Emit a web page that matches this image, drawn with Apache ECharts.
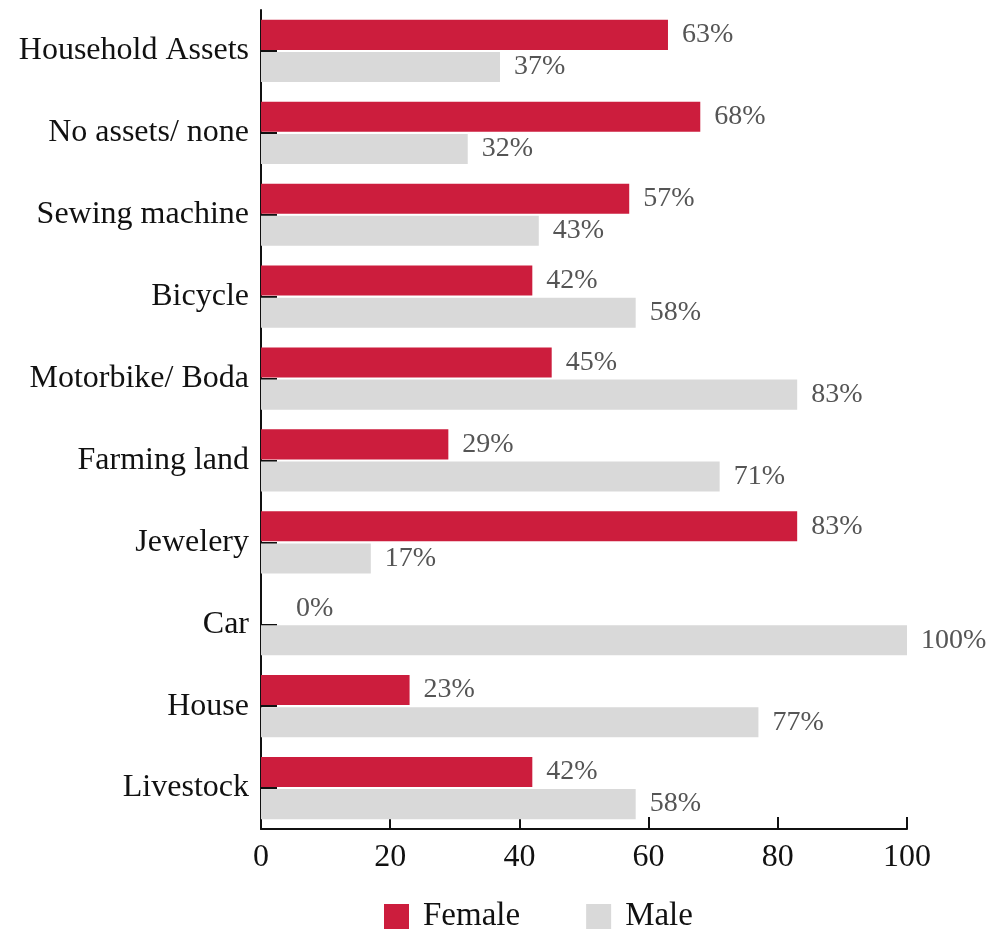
<!DOCTYPE html>
<html>
<head>
<meta charset="utf-8">
<style>
  html, body { margin: 0; padding: 0; background: #ffffff; }
  #chart { width: 992px; height: 934px; }
</style>
<script src="https://cdn.jsdelivr.net/npm/echarts@6/dist/echarts.min.js"></script>
</head>
<body>
<div id="chart"></div>
<script>
// Asset ownership by gender (percent of owners)
const categories = [
  'Household Assets', 'No assets/ none', 'Sewing machine', 'Bicycle',
  'Motorbike/ Boda', 'Farming land', 'Jewelery', 'Car', 'House', 'Livestock'
];
const femaleValues = [63, 68, 57, 42, 45, 29, 83, 0, 23, 42];
const maleValues   = [37, 32, 43, 58, 83, 71, 17, 100, 77, 58];
const xTicks = [0, 20, 40, 60, 80, 100];

const FONT = 'Liberation Serif';
const RED = '#cc1d3d';
const GREY = '#d9d9d9';

const chart = echarts.init(document.getElementById('chart'), null, { renderer: 'canvas' });

const valueLabel = {
  show: true,
  position: 'right',
  distance: 14,
  color: '#555555',
  fontFamily: FONT,
  fontSize: 28,
  formatter: p => p.value + '%'
};

// zero-length bars get their label pushed a little further from the axis
const withLabelOffset = values => values.map(v =>
  v === 0 ? { value: v, label: { distance: 35 } } : v
);

chart.setOption({
  animation: false,
  backgroundColor: '#ffffff',
  grid: { left: 261, right: 85, top: 10, bottom: 105, containLabel: false },
  legend: {
    top: 895,
    left: 379,
    itemWidth: 25,
    itemHeight: 25,
    itemGap: 66,
    icon: 'rect',
    textStyle: { fontFamily: FONT, fontSize: 33, color: '#111111', padding: [0, 0, 0, 9] },
    data: ['Female', 'Male']
  },
  xAxis: {
    type: 'value',
    min: xTicks[0],
    max: xTicks[xTicks.length - 1],
    interval: 20,
    splitLine: { show: false },
    axisLine: { show: true, lineStyle: { color: '#111111', width: 2 } },
    axisTick: { show: true, inside: true, length: 12, lineStyle: { color: '#111111', width: 2 } },
    axisLabel: { fontFamily: FONT, fontSize: 32, color: '#111111', margin: 13 }
  },
  yAxis: {
    type: 'category',
    inverse: true,
    data: categories,
    axisLine: { show: true, lineStyle: { color: '#111111', width: 2 } },
    axisTick: { show: true, inside: true, length: 16, alignWithLabel: true, lineStyle: { color: '#111111', width: 2 } },
    axisLabel: { fontFamily: FONT, fontSize: 32, color: '#111111', margin: 12 }
  },
  series: [
    {
      name: 'Female',
      type: 'bar',
      data: withLabelOffset(femaleValues),
      itemStyle: { color: RED },
      barGap: '7%',
      barCategoryGap: '24%',
      label: valueLabel
    },
    {
      name: 'Male',
      type: 'bar',
      data: withLabelOffset(maleValues),
      itemStyle: { color: GREY },
      barGap: '7%',
      barCategoryGap: '24%',
      label: valueLabel
    }
  ]
});
</script>
</body>
</html>
